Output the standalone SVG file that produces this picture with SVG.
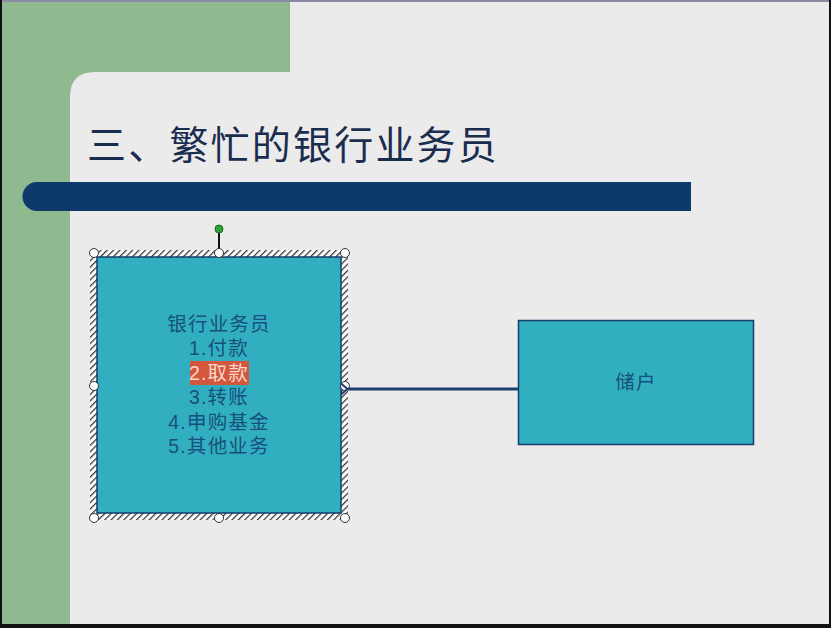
<svg xmlns="http://www.w3.org/2000/svg" width="831" height="628" viewBox="0 0 831 628">
<defs>
<style>
.cjk{font-family:"Liberation Sans","Noto Sans CJK SC",sans-serif}
.node-text{font-size:19.5px;fill:#17507a;text-anchor:middle;letter-spacing:1.2px}
.handle{fill:#ffffff;stroke:#333333;stroke-width:1}
</style>
<pattern id="hatch" width="4.5" height="4.5" patternUnits="userSpaceOnUse" patternTransform="rotate(45)">
<rect width="4.5" height="4.5" fill="#ffffff"/>
<rect width="1.3" height="4.5" fill="#3a3a3a"/>
</pattern>
<marker id="arrow" markerWidth="12" markerHeight="14" refX="1" refY="7" orient="auto" markerUnits="userSpaceOnUse">
<path d="M8,1.5 L1.5,7 L8,12.5" fill="none" stroke="#1c3f6e" stroke-width="2"/>
</marker>
</defs>
<rect x="0" y="0" width="831" height="628" fill="#111111"/>
<rect x="2" y="0" width="827" height="2" fill="#8c8aa2"/>
<rect x="2" y="2" width="827" height="622" fill="#ebebeb"/>
<g id="background-shape">
<path d="M2,2 H290 V72 H95 Q70,72 70,97 V624 H2 Z" fill="#8fb98f"/>
</g>
<g id="title">
<text x="87" y="159" class="cjk" font-size="39" fill="#1b2d4f" letter-spacing="2.2">三、繁忙的银行业务员</text>
</g>
<g id="title-bar">
<path d="M37,182 H691 V211 H37 A14.5,14.5 0 0 1 37,182 Z" fill="#0d3a6a"/>
</g>
<g id="node-clerk">
<rect x="90" y="250" width="258" height="270" fill="url(#hatch)"/>
<rect x="97" y="257" width="244" height="256" fill="#31afc1" stroke="#153e6a" stroke-width="1.5"/>
<line x1="219" y1="230" x2="219" y2="251" stroke="#111111" stroke-width="2"/>
<circle cx="219" cy="229" r="4" fill="#2fa33a" stroke="#1a6a22" stroke-width="1"/>
<circle class="handle" cx="94" cy="253" r="4.5"/>
<circle class="handle" cx="219" cy="253" r="4.5"/>
<circle class="handle" cx="345" cy="253" r="4.5"/>
<circle class="handle" cx="94" cy="386" r="4.5"/>
<circle class="handle" cx="345" cy="386" r="4.5"/>
<circle class="handle" cx="94" cy="518" r="4.5"/>
<circle class="handle" cx="219" cy="518" r="4.5"/>
<circle class="handle" cx="345" cy="518" r="4.5"/>
<rect x="190" y="361" width="59" height="24" fill="#d2573e"/>
<text class="cjk node-text" x="219" y="331">银行业务员</text>
<text class="cjk node-text" x="219" y="355">1.付款</text>
<text class="cjk node-text" x="219" y="380" style="fill:#fbd7c8">2.取款</text>
<text class="cjk node-text" x="219" y="404">3.转账</text>
<text class="cjk node-text" x="219" y="429">4.申购基金</text>
<text class="cjk node-text" x="219" y="453">5.其他业务</text>
</g>
<g id="connectors">
<line x1="518" y1="389" x2="348" y2="389" stroke="#1c3f6e" stroke-width="3" marker-end="url(#arrow)"/>
</g>
<g id="node-depositor">
<rect x="518.5" y="320.5" width="235" height="124" fill="#31afc1" stroke="#153e6a" stroke-width="1.5"/>
<text class="cjk node-text" x="636" y="389">储户</text>
</g>
</svg>
